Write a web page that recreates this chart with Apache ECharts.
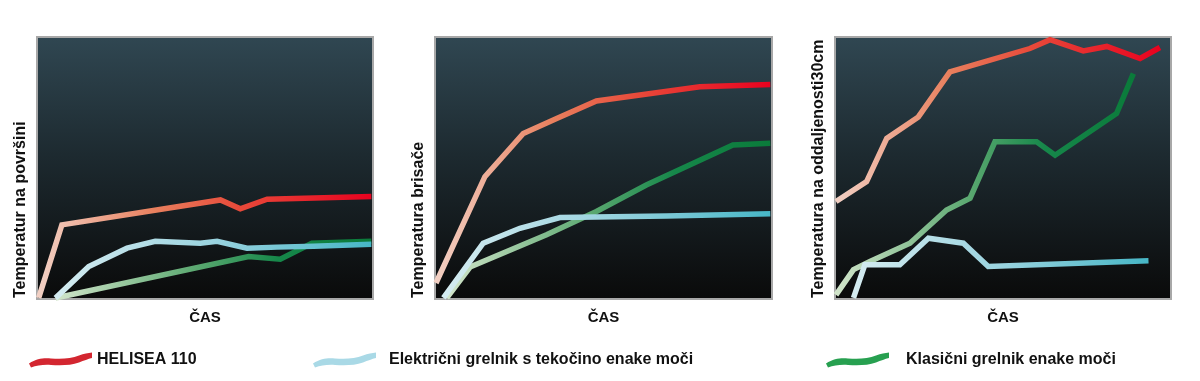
<!DOCTYPE html>
<html>
<head>
<meta charset="utf-8">
<script src="https://cdn.jsdelivr.net/npm/echarts@6/dist/echarts.min.js"></script>
<style>
html,body{margin:0;padding:0;background:#fff;}
#main{width:1200px;height:381px;}
</style>
</head>
<body>
<div id="main"></div>
<script>
// ---- data (x = time %, y = temperature %) ----
const seriesNames = ['HELISEA 110', 'Električni grelnik s tekočino enake moči', 'Klasični grelnik enake moči'];
const yAxisNames = ['Temperatur na površini', 'Temperatura brisače', 'Temperatura na oddaljenosti30cm'];
const xAxisName = 'ČAS';

// Panel 1: surface temperature
const surfHelisea = [[0.5,0.4],[7.4,28.3],[54.6,37.8],[60.5,34.4],[68.5,38.1],[99.5,39.1]];
const surfElectric = [[5.5,0.4],[15.4,12.4],[26.8,19.4],[35.2,22.0],[48.6,21.3],[53.6,22.0],[62.5,19.4],[71.4,19.8],[82.3,20.1],[99.5,20.9]];
const surfClassic = [[5.5,0.4],[63.0,16.2],[72.4,15.2],[81.8,21.3],[99.5,22.0]];

// Panel 2: towel temperature
const towelHelisea = [[0.3,6.1],[14.8,46.7],[26.2,63.2],[36.1,68.9],[47.9,75.6],[78.6,81.0],[99.5,81.9]];
const towelElectric = [[2.5,0.4],[14.3,21.3],[25.2,27.0],[37.1,31.1],[68.7,31.7],[99.5,32.5]];
const towelClassic = [[3.5,0.4],[10.4,12.2],[33.1,24.5],[47.9,33.4],[62.7,43.5],[88.4,58.8],[99.5,59.4]];

// Panel 3: temperature at 30 cm distance
const distHelisea = [[0.3,37.2],[9.4,44.8],[15.4,61.3],[24.8,69.5],[34.2,86.7],[58.0,95.6],[64.0,99.0],[73.9,94.7],[80.9,96.4],[90.8,91.8],[96.7,96.0]];
const distElectric = [[5.5,0.4],[8.9,13.1],[19.3,13.1],[27.8,23.2],[38.2,21.3],[45.6,12.4],[93.3,14.6]];
const distClassic = [[0.3,1.6],[5.5,11.2],[10.4,14.3],[22.3,21.3],[33.2,34.0],[40.2,38.5],[47.6,60.0],[60.0,60.0],[65.5,54.9],[83.8,70.8],[88.8,86.0]];

const panels = [
  [surfHelisea, surfElectric, surfClassic],
  [towelHelisea, towelElectric, towelClassic],
  [distHelisea, distElectric, distClassic]
];

// ---- styling ----
const legendColors = ['#d32630', '#a9d9e6', '#27a050'];
const lineGradients = [
  [{offset:0,color:'#f2d2c6'},{offset:0.35,color:'#e8805e'},{offset:0.6,color:'#e84a3a'},{offset:1,color:'#e8001e'}],
  [{offset:0,color:'#d6ecf1'},{offset:0.5,color:'#9ad3df'},{offset:1,color:'#45b6c6'}],
  [{offset:0,color:'#d4e6cc'},{offset:0.45,color:'#5aa870'},{offset:0.7,color:'#16874a'},{offset:1,color:'#0a7a3a'}]
];
const gridBoxes = [
  {left:37, top:37, width:336, height:262},
  {left:435, top:37, width:337, height:262},
  {left:835, top:37, width:336, height:262}
];
const wavePath = 'path://M0,11 C8,6 14,5.5 22,6 C32,6.5 42,6.5 50,3 C55,1 59,0.5 63,0 L63,5.5 C59,6.5 55,8 50,10 C42,13 32,13 22,12.5 C14,12 8,13 2,15 Z';

const grids = [], xAxes = [], yAxes = [], series = [];
gridBoxes.forEach((b, i) => {
  grids.push(Object.assign({
    show: true,
    borderColor: '#a8a8a8',
    borderWidth: 2,
    backgroundColor: {type:'linear', x:0, y:0, x2:0, y2:1, colorStops:[
      {offset:0, color:'#304752'}, {offset:0.45, color:'#1d2a30'}, {offset:1, color:'#0a0a0a'}]}
  }, b));
  xAxes.push({
    type:'value', gridIndex:i, min:0, max:100,
    axisLine:{show:false}, axisTick:{show:false}, axisLabel:{show:false}, splitLine:{show:false},
    name: xAxisName, nameLocation:'middle', nameGap:11,
    nameTextStyle:{fontFamily:'Liberation Sans, Arial, sans-serif', fontWeight:'bold', fontSize:15, color:'#111'}
  });
  yAxes.push({
    type:'value', gridIndex:i, min:0, max:100,
    axisLine:{show:false}, axisTick:{show:false}, axisLabel:{show:false}, splitLine:{show:false},
    name: yAxisNames[i], nameLocation:'start', nameGap:-1, nameRotate:90,
    nameTextStyle:{fontFamily:'Liberation Sans, Arial, sans-serif', fontWeight:'bold', fontSize:16, color:'#111',
      align:'left', verticalAlign:'bottom', padding:[0,0,8,0]}
  });
  panels[i].forEach((data, s) => {
    series.push({
      type:'line', name: seriesNames[s], xAxisIndex:i, yAxisIndex:i,
      data: data, symbol:'none', silent:true, animation:false,
      itemStyle:{color: legendColors[s]},
      lineStyle:{width:5.5, join:'miter', cap:'butt',
        color:{type:'linear', x:0, y:0, x2:1, y2:0, colorStops: lineGradients[s]}},
      z: 3 - s
    });
  });
});

const legendLefts = [24, 308, 821];
const legendTextPad = [0, 8, 12];
const legends = seriesNames.map((n, i) => ({
  left: legendLefts[i], top: 347,
  icon: wavePath, itemWidth: 63, itemHeight: 15, itemGap: 0,
  selectedMode: false,
  textStyle:{fontFamily:'Liberation Sans, Arial, sans-serif', fontWeight:'bold', fontSize:16, color:'#111', padding:[0,0,0,legendTextPad[i]]},
  data:[{name:n, itemStyle:{color: legendColors[i], borderWidth:0}, lineStyle:{width:0}}]
}));

const chart = echarts.init(document.getElementById('main'), null, {renderer:'canvas'});
chart.setOption({
  animation:false,
  backgroundColor:'#ffffff',
  grid: grids, xAxis: xAxes, yAxis: yAxes,
  legend: legends,
  series: series
});
</script>
</body>
</html>
